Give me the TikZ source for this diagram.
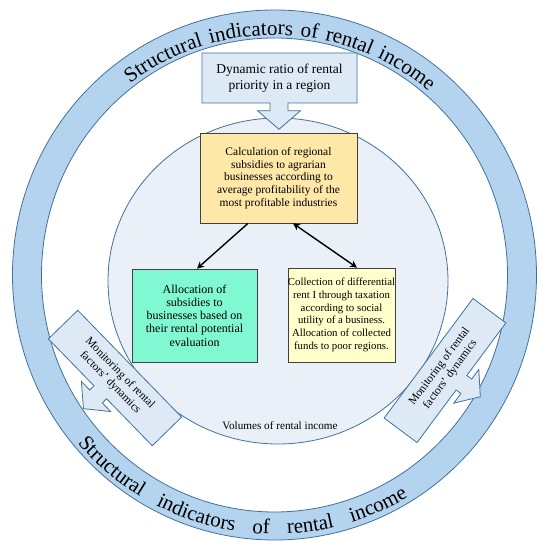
\documentclass[tikz,border=0pt]{standalone}
\usepackage{fontspec}
\setmainfont{Liberation Serif}
\usetikzlibrary{decorations.text, arrows.meta, calc}

\definecolor{ringfill}{HTML}{B4D3EE}
\definecolor{ringline}{HTML}{41719C}
\definecolor{innerfill}{HTML}{EAF0F8}
\definecolor{callfill}{HTML}{DDEAF6}
\definecolor{calcfill}{HTML}{FDE8A8}
\definecolor{allocfill}{HTML}{80F8D2}
\definecolor{collfill}{HTML}{FFFFCC}
\definecolor{boxline}{HTML}{404040}

\newcommand\ringfont{\fontsize{21}{21}\selectfont}

\begin{document}
\begin{tikzpicture}[x=1pt, y=1pt,
  ringtext/.style={decorate, decoration={text along path,
      text={|\ringfont|Structural indicators of rental income},
      text align={fit to path stretching spaces}}},
  calloutshape/.style={fill=callfill, draw=ringline, line width=0.8pt, line join=miter},
  box/.style={draw=boxline, line width=0.7pt, inner sep=0pt, align=center},
  conn/.style={line width=1.4pt, black, -{Stealth[length=7pt, width=7pt]}},
  montext/.style={align=center, font=\fontsize{11.5}{13.5}\selectfont, inner sep=0pt},
  monitorcallout/.pic={
    \path[calloutshape] (-74.5,20.5) -- (74.5,20.5) -- (74.5,-20.5) -- (9,-20.5)
      -- (9,-26.5) -- (21,-26.5) -- (0,-44) -- (-21,-26.5) -- (-9,-26.5)
      -- (-9,-20.5) -- (-74.5,-20.5) -- cycle;
  }
]
\useasboundingbox (0,0) rectangle (546,550);

\coordinate (rc) at (274.5,275);
\coordinate (ic) at (278,269);

% outer ring
\path[fill=ringfill, draw=ringline, line width=0.8pt, even odd rule]
  (rc) ellipse [x radius=262pt, y radius=265pt]
  (rc) ellipse [x radius=233pt, y radius=237pt];

% ring texts
\path[ringtext] (rc) ++(127:240pt) arc[start angle=127, end angle=50, radius=240pt];
\path[ringtext] (rc) ++(220.5:259pt) arc[start angle=220.5, end angle=301, radius=259pt];

% inner circle
\path[fill=innerfill, draw=ringline, line width=0.8pt]
  (ic) ellipse [x radius=170pt, y radius=163pt];

% top callout
\path[calloutshape] (202,497) -- (357,497) -- (357,447) -- (288,447) -- (288,439.3)
  -- (300.5,439.3) -- (279,420.7) -- (257.5,439.3) -- (270,439.3) -- (270,447)
  -- (202,447) -- cycle;
\node[align=center, font=\fontsize{13.5}{15.7}\selectfont, inner sep=0pt] (ratio) at (279.5,472)
  {Dynamic ratio of rental\\priority in a region};

% boxes
\node[box, fill=calcfill, minimum width=157pt, minimum height=90pt,
  font=\fontsize{11.5}{12.7}\selectfont] (calc) at (278.5,372)
  {Calculation of regional\\subsidies to agrarian\\businesses according to\\average profitability of the\\most profitable industries};
\node[box, fill=allocfill, minimum width=125pt, minimum height=93pt,
  font=\fontsize{12}{13.3}\selectfont] (alloc) at (194.5,234.5)
  {Allocation of\\subsidies to\\businesses based on\\their rental potential\\evaluation};
\node[box, fill=collfill, minimum width=107pt, minimum height=94pt,
  font=\fontsize{10.8}{12.7}\selectfont] (coll) at (341.5,235)
  {Collection of differential\\rent I through taxation\\according to social\\utility of a business.\\Allocation of collected\\funds to poor regions.};

% connectors
\draw[conn] ([xshift=-30.5pt]calc.south) -- ([xshift=2.5pt]alloc.north);
\draw[conn, {Stealth[length=7pt, width=7pt]}-{Stealth[length=7pt, width=7pt]}]
  ([xshift=14.5pt]calc.south) -- ([xshift=15.5pt]coll.north);

\node[font=\fontsize{11.2}{13}\selectfont, inner sep=0pt] (vol) at (280,124) {Volumes of rental income};

% monitoring callouts
\pic[rotate=-45.8] at (115,172) {monitorcallout};
\node[montext, rotate=-45.8] (monl) at (115,172) {Monitoring of rental\\factors’ dynamics};
\pic[rotate=53.4] at (445,179.5) {monitorcallout};
\node[montext, rotate=53.4] (monr) at (445,179.5) {Monitoring of rental\\factors’ dynamics};

\end{tikzpicture}
\end{document}
